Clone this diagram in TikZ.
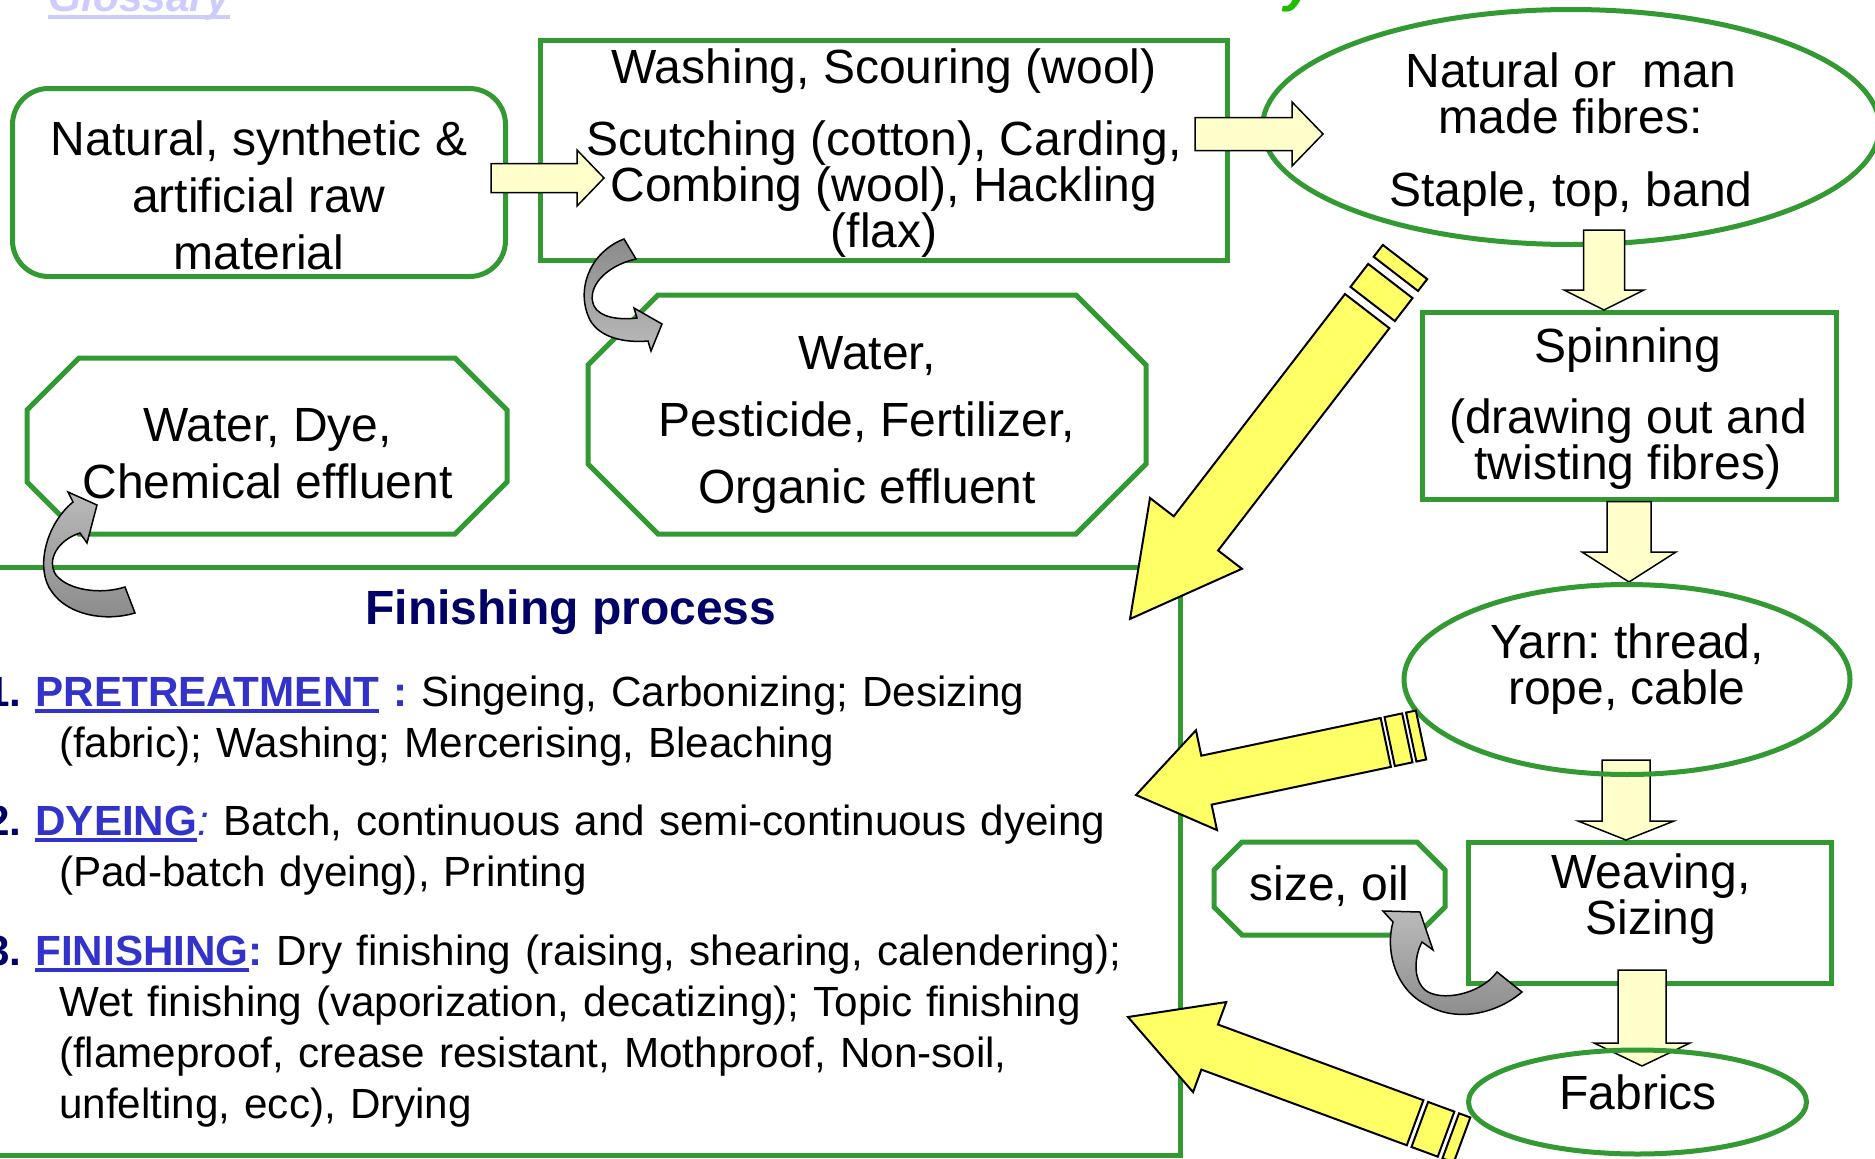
\documentclass[tikz,border=0pt]{standalone}
\usepackage{fontspec}
\setmainfont{Liberation Sans}
\usetikzlibrary{shapes.geometric,calc}
\frenchspacing

\definecolor{procgreen}{RGB}{51,153,51}
\definecolor{paleyellow}{RGB}{255,255,204}
\definecolor{brightyellow}{RGB}{255,255,102}
\definecolor{navyblue}{RGB}{0,0,102}
\definecolor{stepblue}{RGB}{51,51,204}
\definecolor{glosslilac}{RGB}{204,204,255}
\definecolor{titlegreen}{RGB}{34,187,0}
\definecolor{curllight}{RGB}{186,186,186}
\definecolor{curldark}{RGB}{138,138,138}

\newcommand{\ulword}[1]{\setbox0=\hbox{#1}\rlap{\rule[-7pt]{\wd0}{4pt}}\box0\relax}

% angle and length from tail to tip
\newcommand{\arrowframe}[2]{%
  \path let \p1=($(#2)-(#1)$) in \pgfextra{%
    \pgfmathsetmacro\arang{atan2(\y1,\x1)}\global\let\arang\arang
    \pgfmathsetmacro\arlen{veclen(\x1,\y1)}\global\let\arlen\arlen};}

\newcommand{\paleblock}[5]{%
  \arrowframe{#1}{#2}%
  \begin{scope}[shift={(#1)},rotate=\arang,x=1pt,y=1pt]
    \draw[palearrow] (0,-#3) -- (\arlen-#5,-#3) -- (\arlen-#5,-#4) -- (\arlen,0)
      -- (\arlen-#5,#4) -- (\arlen-#5,#3) -- (0,#3) -- cycle;
  \end{scope}}

\newcommand{\stripedarrow}[8]{%
  \arrowframe{#1}{#2}%
  \begin{scope}[shift={(#1)},rotate=\arang,x=1pt,y=1pt]
    \draw[brightarrow] (0,-#3) rectangle (#6,#3)
      (#6+#7,-#3) rectangle (#6+#7+#8,#3)
      (#6+2*#7+#8,-#3) -- (\arlen-#5,-#3) -- (\arlen-#5,-#4) -- (\arlen,0)
      -- (\arlen-#5,#4) -- (\arlen-#5,#3) -- (#6+2*#7+#8,#3) -- cycle;
  \end{scope}}

\newcommand{\octbox}[2]{%
  \draw[greenline] ([xshift=#2pt]#1.north west) -- ([xshift=-#2pt]#1.north east)
    -- ([yshift=-#2pt]#1.north east) -- ([yshift=#2pt]#1.south east)
    -- ([xshift=-#2pt]#1.south east) -- ([xshift=#2pt]#1.south west)
    -- ([yshift=#2pt]#1.south west) -- ([yshift=-#2pt]#1.north west) -- cycle;}

\begin{document}
\begin{tikzpicture}[x=1pt,y=-1pt,
  greenline/.style={draw=procgreen,line width=5pt},
  rbox/.style={greenline,rounded corners=36pt},
  sbox/.style={greenline},
  oval/.style={greenline,ellipse},
  octshape/.style={outer sep=0pt},
  txt/.style={align=center,font=\fontsize{48}{46}\selectfont},
  listtxt/.style={anchor=base west,inner sep=0pt,text width=1130pt,align=left,font=\fontsize{42.2}{51.3}\selectfont\frenchspacing},
  palearrow/.style={draw=black,line width=1.5pt,fill=paleyellow},
  brightarrow/.style={draw=black,line width=2pt,fill=brightyellow},
  curl/.style={draw=black,line width=1.5pt}]

\useasboundingbox (0,0) rectangle (1875,1159);
\clip (0,0) rectangle (1875,1159);
\fill[white] (0,0) rectangle (1875,1159);

% stages and outputs
\node[rbox,minimum width=493pt,minimum height=188pt] (rawmat) at (259,182.5) {};
\node[sbox,minimum width=687pt,minimum height=220pt] (wash) at (884,150.5) {};
\node[oval,minimum width=617pt,minimum height=235pt] (fibres) at (1571,127) {};
\node[sbox,minimum width=414pt,minimum height=187pt] (spin) at (1629,405.5) {};
\node[sbox,minimum width=363pt,minimum height=141pt] (weave) at (1650,913) {};
\node[octshape,minimum width=231pt,minimum height=93pt] (sizeoil) at (1329.5,888.5) {};
\octbox{sizeoil}{28}
\node[octshape,minimum width=480pt,minimum height=176pt] (dyeout) at (267,446) {};
\octbox{dyeout}{52}
\node[octshape,minimum width=558pt,minimum height=239pt] (pestout) at (867,414.5) {};
\octbox{pestout}{70}
\node[sbox,minimum width=1200pt,minimum height=588pt] (finbox) at (580,861) {};

\node[anchor=base west,inner sep=0pt,font=\fontsize{42.5}{50}\selectfont\bfseries\itshape,text=glosslilac] (glossary) at (48,12) {\ulword{Glossary}};
\node[anchor=base west,inner sep=0pt,font=\fontsize{56}{60}\selectfont\bfseries\itshape,text=titlegreen] (titletail) at (1284,0) {y};

% finishing list
\node[font=\fontsize{48}{57}\selectfont\bfseries,text=navyblue] (fintitle) at (571,612) {Finishing process};
\node[listtxt] (pretreat) at (59,706) {\hspace*{-73pt}{\bfseries\color{navyblue}1. }{\bfseries\color{stepblue}\ulword{PRETREATMENT} :} Singeing, Carbonizing; Desizing\\(fabric); Washing; Mercerising, Bleaching};
\node[listtxt] (dyeing) at (59,835) {\hspace*{-73pt}{\bfseries\color{navyblue}2. }{\color{stepblue}{\bfseries\ulword{DYEING}}\textit{:}} Batch, continuous and semi-continuous dyeing\\(Pad-batch dyeing), Printing};
\node[listtxt] (finishing) at (59,965) {\hspace*{-73pt}{\bfseries\color{navyblue}3. }{\bfseries\color{stepblue}\ulword{FINISHING}:} Dry finishing (raising, shearing, calendering);\\Wet finishing (vaporization, decatizing); Topic finishing\\(flameproof, crease resistant, Mothproof, Non-soil,\\unfelting, ecc), Drying};

% pale flow arrows
\coordinate (a1-from) at (491,178); \coordinate (a1-to) at (604,178);
\coordinate (a2-from) at (1195,134); \coordinate (a2-to) at (1323,134);
\coordinate (a3-from) at (1604,230); \coordinate (a3-to) at (1604,310);
\coordinate (a4-to) at (1629,582);
\coordinate (a5-from) at (1626,760); \coordinate (a5-to) at (1626,840);
\coordinate (a6-from) at (1642,970); \coordinate (a6-to) at (1642,1066);
\paleblock{a1-from}{a1-to}{14.5}{28}{27}
\paleblock{a2-from}{a2-to}{16.5}{32}{31}
\paleblock{a3-from}{a3-to}{20.5}{40}{20}
\paleblock{spin.south}{a4-to}{22}{47}{30}
\paleblock{a5-from}{a5-to}{24}{48}{19}
\paleblock{a6-from}{a6-to}{24}{48}{23}

\node[oval,minimum width=446pt,minimum height=190pt] (yarn) at (1627,679.5) {};
\node[oval,minimum width=338pt,minimum height=104pt] (fabric) at (1637.5,1102) {};

% texts
\node[txt,font=\fontsize{48}{57}\selectfont] (rawmat-t) at (259,195) {Natural, synthetic \&\\artificial raw\\material};
\node[txt] (wash-t) at (884,153) {Washing, Scouring (wool)\\[26pt]Scutching (cotton), Carding,\\Combing (wool), Hackling\\(flax)};
\node[txt] (fibres-t) at (1571,135) {Natural or \ man\\made fibres:\\[27pt]Staple, top, band};
\node[txt] (spin-t) at (1628,408.5) {Spinning\\[25pt](drawing out and\\twisting fibres)};
\node[txt] (yarn-t) at (1627,669.5) {Yarn: thread,\\rope, cable};
\node[txt] (weave-t) at (1651,899.5) {Weaving,\\Sizing};
\node[txt] (fabric-t) at (1638,1092) {Fabrics};
\node[txt] (sizeoil-t) at (1329.5,886) {size, oil};
\node[txt,font=\fontsize{48}{57}\selectfont] (dyeout-t) at (267.5,453.5) {Water, Dye,\\Chemical effluent};
\node[txt,font=\fontsize{48}{67}\selectfont] (pestout-t) at (867,425) {Water,\\Pesticide, Fertilizer,\\Organic effluent};

% big arrows into finishing
\coordinate (b1-from) at (1405,262); \coordinate (b1-to) at (1130,619);
\coordinate (b2-from) at (1421,735); \coordinate (b2-to) at (1136,795);
\coordinate (b3-from) at (1462,1140); \coordinate (b3-to) at (1128,1017);
\stripedarrow{b1-from}{b1-to}{28}{58}{108}{15}{9}{29}
\stripedarrow{b2-from}{b2-to}{25}{51}{72}{10}{4}{18}
\stripedarrow{b3-from}{b3-to}{24}{48}{87}{12}{5}{28}

% curled arrows to the outputs
\draw[curl,top color=curldark,bottom color=curllight] (624,239) .. controls (590,252) and (575,290) .. (590,320)
  .. controls (600,338) and (625,343) .. (648,341) -- (651,351) -- (662,324) -- (634,308) -- (637,318)
  .. controls (620,320) and (600,318) .. (594,306) .. controls (586,288) and (605,266) .. (636,259) -- cycle;
\draw[curl,top color=curllight,bottom color=curldark] (73,502) -- (68,492) -- (97,505) -- (87,543) -- (80,533)
  .. controls (58,540) and (46,560) .. (56,575) .. controls (68,590) and (100,595) .. (125,587) -- (135,613)
  .. controls (105,622) and (68,615) .. (52,592) .. controls (35,570) and (45,525) .. (73,502) -- cycle;
\draw[curl,top color=curllight,bottom color=curldark] (1393,922) .. controls (1385,950) and (1395,990) .. (1427,1005)
  .. controls (1455,1022) and (1495,1015) .. (1522,992) -- (1497,972) .. controls (1480,995) and (1440,1002) .. (1425,990)
  .. controls (1412,978) and (1415,955) .. (1422,942) -- (1433,950) -- (1420,912) -- (1383,911) -- cycle;
\end{tikzpicture}
\end{document}
